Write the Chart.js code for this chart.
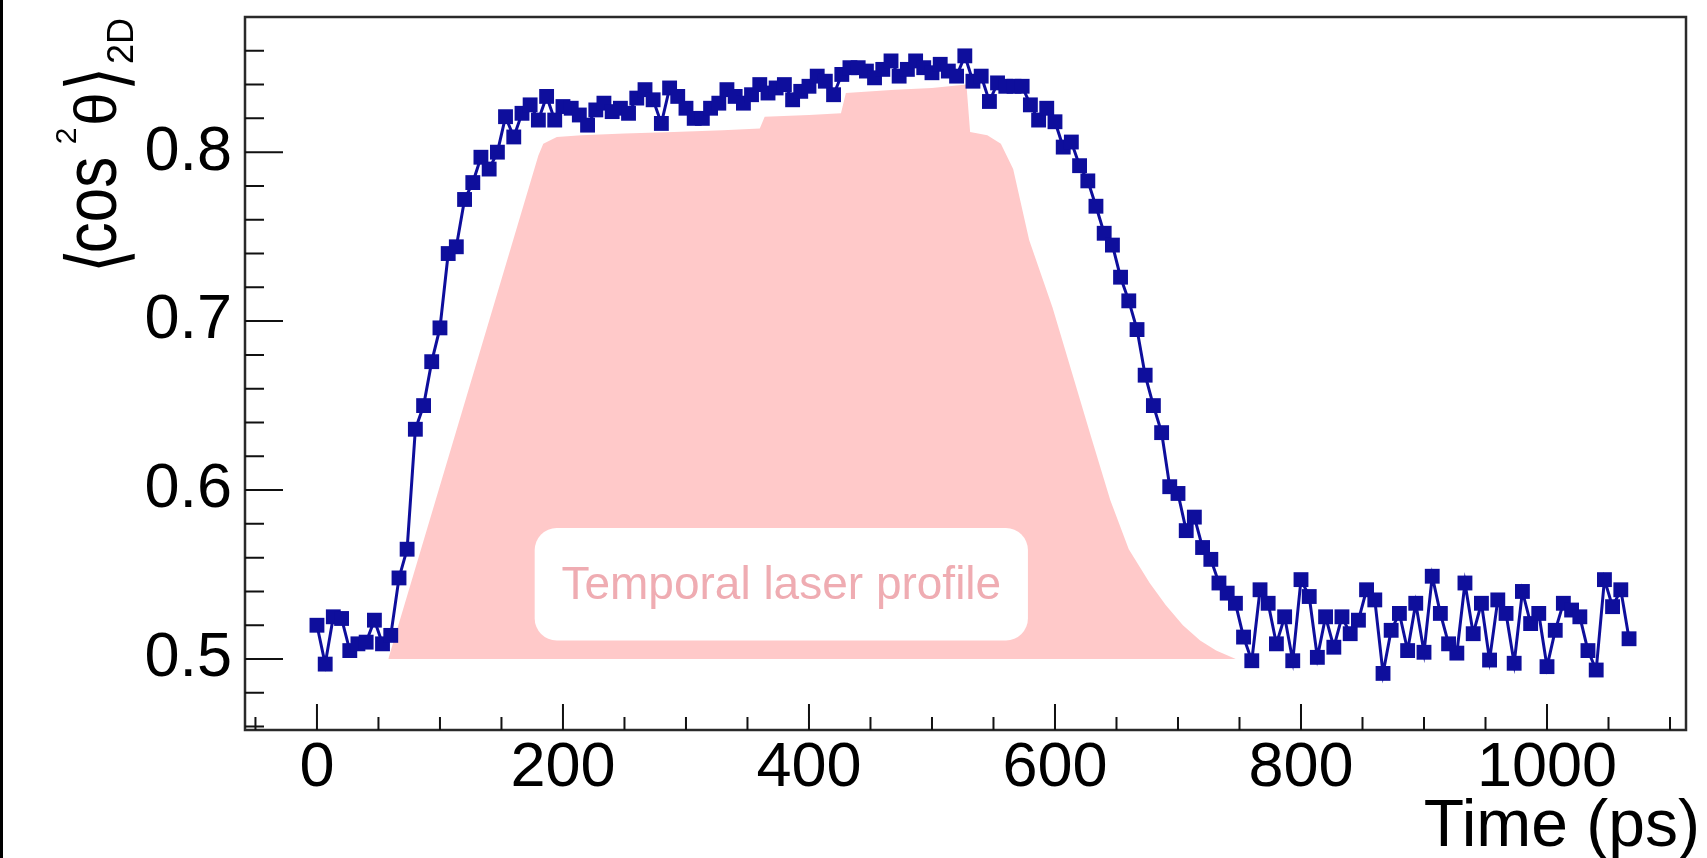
<!DOCTYPE html>
<html>
<head>
<meta charset="utf-8">
<script src="https://cdn.jsdelivr.net/npm/chart.js@4.4.0/dist/chart.umd.min.js"></script>
<style>
  html, body { margin: 0; padding: 0; background: #fff; }
  #wrap { position: relative; width: 1707px; height: 858px; }
  #edge { position: absolute; left: 0; top: 0; width: 3px; height: 858px; background: #000; }
</style>
</head>
<body>
<div id="wrap">
  <canvas id="chart" width="1707" height="858"></canvas>
  <div id="edge"></div>
</div>
<script>
// delay (ps)
const timePs = [
  0, 6.7, 13.3, 20, 26.7, 33.3, 40, 46.7, 53.3, 60,
  66.7, 73.3, 80, 86.7, 93.3, 100, 106.7, 113.3, 120, 126.7,
  133.3, 140, 146.7, 153.3, 160, 166.7, 173.3, 180, 186.7, 193.3,
  200, 206.7, 213.3, 220, 226.7, 233.3, 240, 246.7, 253.3, 260,
  266.7, 273.3, 280, 286.7, 293.3, 300, 306.7, 313.3, 320, 326.7,
  333.3, 340, 346.7, 353.3, 360, 366.7, 373.3, 380, 386.7, 393.3,
  400, 406.7, 413.3, 420, 426.7, 433.3, 440, 446.7, 453.3, 460,
  466.7, 473.3, 480, 486.7, 493.3, 500, 506.7, 513.3, 520, 526.7,
  533.3, 540, 546.7, 553.3, 560, 566.7, 573.3, 580, 586.7, 593.3,
  600, 606.7, 613.3, 620, 626.7, 633.3, 640, 646.7, 653.3, 660,
  666.7, 673.3, 680, 686.7, 693.3, 700, 706.7, 713.3, 720, 726.7,
  733.3, 740, 746.7, 753.3, 760, 766.7, 773.3, 780, 786.7, 793.3,
  800, 806.7, 813.3, 820, 826.7, 833.3, 840, 846.7, 853.3, 860,
  866.7, 873.3, 880, 886.7, 893.3, 900, 906.7, 913.3, 920, 926.7,
  933.3, 940, 946.7, 953.3, 960, 966.7, 973.3, 980, 986.7, 993.3,
  1000, 1006.7, 1013.3, 1020, 1026.7, 1033.3, 1040, 1046.7, 1053.3, 1060,
  1066.7
];

// <cos^2 theta>_2D
const cos2 = [
  0.520, 0.497, 0.525, 0.524, 0.505, 0.509, 0.510, 0.523, 0.509, 0.514,
  0.548, 0.565, 0.636, 0.650, 0.676, 0.696, 0.740, 0.744, 0.772, 0.782,
  0.797, 0.790, 0.800, 0.821, 0.809, 0.823, 0.828, 0.819, 0.833, 0.819,
  0.827, 0.826, 0.822, 0.816, 0.825, 0.829, 0.824, 0.826, 0.823, 0.832,
  0.837, 0.831, 0.817, 0.838, 0.833, 0.826, 0.820, 0.820, 0.826, 0.829,
  0.837, 0.833, 0.829, 0.834, 0.840, 0.835, 0.838, 0.840, 0.831, 0.836,
  0.839, 0.845, 0.842, 0.834, 0.846, 0.850, 0.850, 0.848, 0.844, 0.849,
  0.854, 0.845, 0.849, 0.854, 0.850, 0.847, 0.852, 0.848, 0.845, 0.857,
  0.842, 0.845, 0.830, 0.841, 0.839, 0.839, 0.839, 0.828, 0.819, 0.826,
  0.818, 0.803, 0.806, 0.792, 0.783, 0.768, 0.752, 0.745, 0.726, 0.712,
  0.695, 0.668, 0.650, 0.634, 0.602, 0.598, 0.576, 0.584, 0.566, 0.559,
  0.545, 0.539, 0.533, 0.513, 0.499, 0.541, 0.533, 0.509, 0.525, 0.499,
  0.547, 0.537, 0.501, 0.525, 0.507, 0.525, 0.515, 0.523, 0.541, 0.535,
  0.4915, 0.517, 0.527, 0.505, 0.533, 0.504, 0.549, 0.527, 0.509, 0.5035,
  0.545, 0.515, 0.533, 0.4994, 0.535, 0.527, 0.4975, 0.540, 0.521, 0.527,
  0.4955, 0.517, 0.533, 0.529, 0.525, 0.505, 0.4935, 0.547, 0.531, 0.541,
  0.512
];

// temporal laser profile outline (drawn on the same value scale)
const profileTime = [58, 180, 184, 195, 215, 250, 290, 330, 360, 364, 400, 426,
  430, 470, 500, 528, 531, 545, 556, 566, 579, 598, 614, 630, 645, 660, 677, 690, 704, 718, 731, 747];
const profileLevel = [0.500, 0.798, 0.805, 0.809, 0.810, 0.811, 0.812, 0.813,
  0.814, 0.821, 0.822, 0.823, 0.835, 0.837, 0.838, 0.840, 0.812, 0.810, 0.805, 0.790, 0.748, 0.708,
  0.669, 0.630, 0.594, 0.565, 0.545, 0.532, 0.520, 0.511, 0.505, 0.500];

const xTickValues = [0, 200, 400, 600, 800, 1000];
const yTickValues = [0.5, 0.6, 0.7, 0.8];

const profileLabel = 'Temporal laser profile';
const labelBoxTime = [177, 578];
const labelBoxLevel = [0.511, 0.5775];

const xRange = [-58.5, 1113];
const yRange = [0.458, 0.880];

const BLUE = '#0e0e9c';
const PINK = 'rgb(255, 201, 201)';
const FONT = "'Liberation Sans', Arial, Helvetica, sans-serif";

// ROOT style frame, inward ticks, titles and the label box
const rootDecor = {
  id: 'rootDecor',
  afterDatasetsDraw(chart) {
    const { ctx, scales: { x, y } } = chart;
    const l = x.getPixelForValue(labelBoxTime[0]);
    const r = x.getPixelForValue(labelBoxTime[1]);
    const t = y.getPixelForValue(labelBoxLevel[1]);
    const b = y.getPixelForValue(labelBoxLevel[0]);
    ctx.save();
    ctx.fillStyle = '#fff';
    ctx.beginPath();
    ctx.roundRect(l, t, r - l, b - t, 22);
    ctx.fill();
    ctx.fillStyle = '#efacb2';
    ctx.font = `46px ${FONT}`;
    ctx.textAlign = 'center';
    ctx.textBaseline = 'middle';
    ctx.fillText(profileLabel, (l + r) / 2, (t + b) / 2 + 2);
    ctx.restore();
  },
  afterDraw(chart) {
    const { ctx, chartArea: a, scales: { x, y } } = chart;
    ctx.save();
    ctx.strokeStyle = '#2a2a2a';
    ctx.lineWidth = 2.5;
    ctx.strokeRect(a.left, a.top, a.right - a.left, a.bottom - a.top);

    ctx.lineWidth = 2;
    ctx.strokeStyle = '#111';
    ctx.beginPath();
    for (let v = -50; v <= 1100; v += 50) {
      const px = x.getPixelForValue(v);
      if (px <= a.left || px >= a.right) continue;
      const len = v % 200 === 0 ? 26 : 13;
      ctx.moveTo(px, a.bottom);
      ctx.lineTo(px, a.bottom - len);
    }
    for (let k = 23; k <= 44; k++) {
      const py = y.getPixelForValue(k / 50);
      if (py <= a.top || py >= a.bottom) continue;
      const len = k % 5 === 0 ? 38 : 19;
      ctx.moveTo(a.left, py);
      ctx.lineTo(a.left + len, py);
    }
    ctx.stroke();

    // x title
    ctx.fillStyle = '#000';
    ctx.font = `66px ${FONT}`;
    ctx.textAlign = 'right';
    ctx.textBaseline = 'alphabetic';
    ctx.fillText('Time (ps)', 1700, 846);

    // y title  <cos^2 theta>_2D, rotated; 'at' = centre along the text
    const parts = [
      { s: '\u27E8', font: "62px 'DejaVu Sans'", at: 14, dy: 8, sx: 1, sy: 1.3 },
      { s: 'cos', font: `62px ${FONT}`, at: 70, dy: 0, sx: 1, sy: 1.2 },
      { s: '2', font: `30px ${FONT}`, at: 139, dy: -40, sx: 1, sy: 1 },
      { s: '\u03B8', font: `60px ${FONT}`, at: 166, dy: 0, sx: 1, sy: 1 },
      { s: '\u27E9', font: "62px 'DejaVu Sans'", at: 196, dy: 8, sx: 1, sy: 1.3 },
      { s: '2D', font: `36px ${FONT}`, at: 234, dy: 17, sx: 1, sy: 1 }
    ];
    ctx.translate(116, 275);
    ctx.rotate(-Math.PI / 2);
    ctx.textAlign = 'center';
    for (const p of parts) {
      ctx.font = p.font;
      ctx.save();
      ctx.translate(p.at, p.dy);
      ctx.scale(p.sx, p.sy);
      ctx.fillText(p.s, 0, 0);
      ctx.restore();
    }
    ctx.restore();
  }
};

// keep the chart area fixed: no extra room for half labels at the ends
function fixBox(size) {
  return s => {
    if (s.isHorizontal()) s.height = size; else s.width = size;
    s.paddingTop = 0; s.paddingBottom = 0; s.paddingLeft = 0; s.paddingRight = 0;
  };
}

new Chart(document.getElementById('chart'), {
  type: 'line',
  data: {
    datasets: [
      {
        label: 'cos2',
        data: timePs.map((t, i) => ({ x: t, y: cos2[i] })),
        borderColor: BLUE,
        borderWidth: 3,
        pointStyle: 'rect',
        pointRadius: 10.5,
        pointBorderWidth: 0,
        pointBackgroundColor: BLUE,
        tension: 0,
        fill: false
      },
      {
        label: 'profile',
        data: profileTime.map((t, i) => ({ x: t, y: profileLevel[i] })),
        borderWidth: 0,
        borderColor: PINK,
        backgroundColor: PINK,
        pointRadius: 0,
        tension: 0,
        fill: { value: 0.5 }
      }
    ]
  },
  options: {
    responsive: false,
    animation: false,
    events: [],
    layout: { padding: { left: 0, top: 17, right: 21, bottom: 0 } },
    plugins: {
      legend: { display: false },
      tooltip: { enabled: false }
    },
    scales: {
      x: {
        type: 'linear',
        min: xRange[0],
        max: xRange[1],
        grid: { display: false, drawTicks: false },
        border: { display: false },
        afterBuildTicks: s => { s.ticks = xTickValues.map(v => ({ value: v })); },
        ticks: {
          autoSkip: false,
          maxRotation: 0,
          padding: 1,
          color: '#000',
          font: { family: FONT, size: 63 },
          callback: v => String(v)
        },
        afterFit: fixBox(128)
      },
      y: {
        type: 'linear',
        min: yRange[0],
        max: yRange[1],
        grid: { display: false, drawTicks: false },
        border: { display: false },
        afterBuildTicks: s => { s.ticks = yTickValues.map(v => ({ value: v })); },
        ticks: {
          autoSkip: false,
          padding: 13,
          color: '#000',
          font: { family: FONT, size: 63 },
          callback: v => v.toFixed(1)
        },
        afterFit: fixBox(245)
      }
    }
  },
  plugins: [rootDecor]
});
</script>
</body>
</html>
